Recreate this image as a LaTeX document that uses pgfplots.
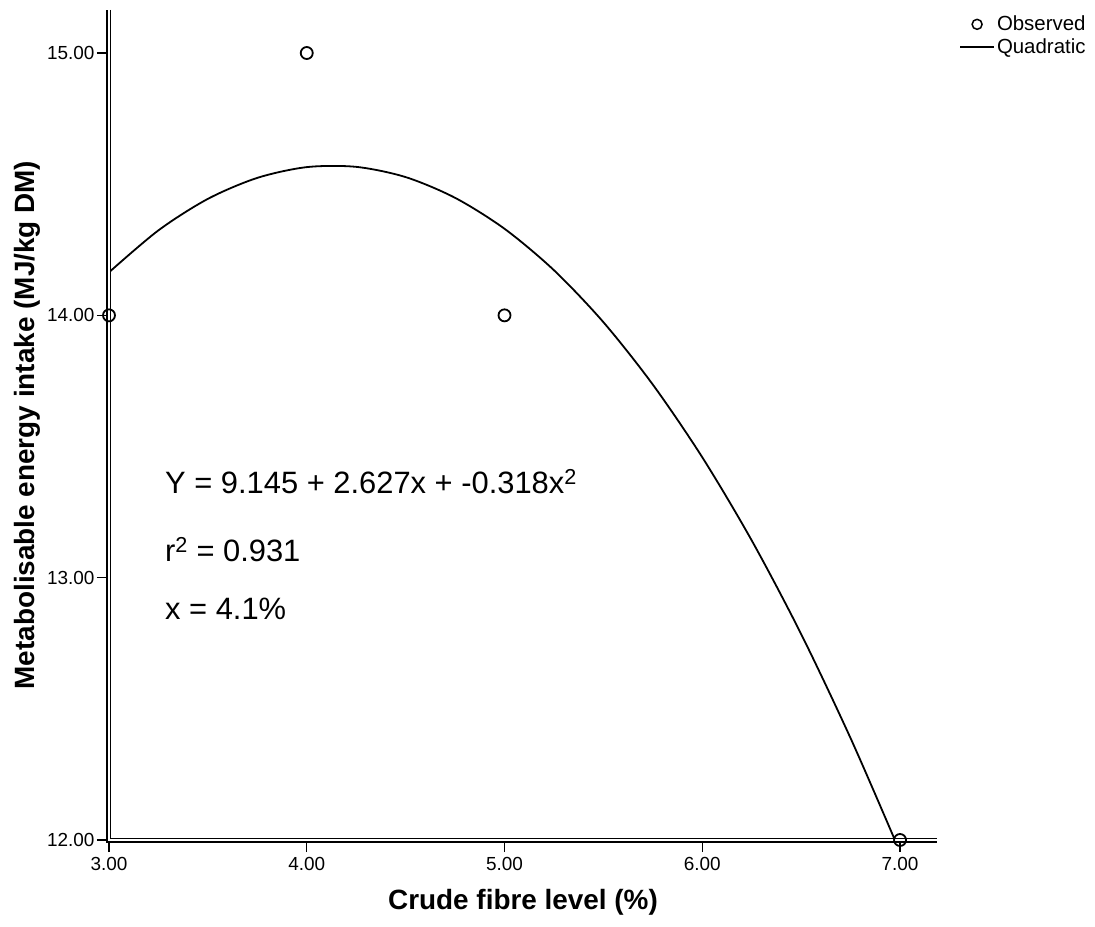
\documentclass[border=0pt]{standalone}
\usepackage{fontspec}
\setmainfont{Liberation Sans}
\usepackage{pgfplots}
\pgfplotsset{compat=1.18}
\begin{document}
\begin{tikzpicture}
\begin{axis}[
  at={(0,0)}, anchor=south west,
  scale only axis, width=828bp, height=830bp,
  xmin=3, xmax=7.187, ymin=12, ymax=15.164,
  axis lines*=left, axis line style={draw=none},
  clip=false,
  xtick={3,4,5,6,7}, ytick={12,13,14,15},
  tick align=outside, major tick length=12bp,
  tick style={black, line width=1.4bp},
  /pgf/number format/assume math mode=true,
  xticklabel style={font=\fontsize{19}{21}\selectfont, yshift=-2bp,
    /pgf/number format/fixed, /pgf/number format/precision=2, /pgf/number format/fixed zerofill},
  yticklabel style={font=\fontsize{19}{21}\selectfont, xshift=1bp,
    /pgf/number format/fixed, /pgf/number format/precision=2, /pgf/number format/fixed zerofill},
  xlabel={Crude fibre level (\%)},
  ylabel={Metabolisable energy intake (MJ/kg DM)},
  xlabel style={font=\bfseries\fontsize{28}{30}\selectfont, yshift=-12bp},
  ylabel style={font=\bfseries\fontsize{28}{30}\selectfont},
  legend style={at={(1,1)}, anchor=north west, xshift=22bp, yshift=-4bp,
    draw=none, fill=none, font=\fontsize{20.5}{22}\selectfont, row sep=2bp,
    inner sep=0pt},
  legend cell align=left,
]
\addplot[only marks, mark=o, mark size=6bp, line width=1.8bp, mark options={fill=white},
  legend image code/.code={\draw[mark=o, mark size=5bp, line width=1.5bp] plot coordinates {(17bp,0bp)};}]
  coordinates {(3,14) (4,15) (5,14) (7,12)};
\addlegendentry{Observed}
\addplot[black, line width=1.8bp, smooth, no marks,
  legend image code/.code={\draw[line width=1.8bp] (0bp,0bp) -- (34bp,0bp);}]
  coordinates {(3,14.164) (3.25,14.324) (3.5,14.444) (3.75,14.524) (4,14.565)
    (4.25,14.566) (4.5,14.527) (4.75,14.448) (5,14.330) (5.25,14.172) (5.5,13.974)
    (5.75,13.736) (6,13.459) (6.25,13.142) (6.5,12.785) (6.75,12.388) (6.974,12.0)};
\addlegendentry{Quadratic}
\draw[double=white, double distance=2.2bp, line width=1.4bp, black]
  (rel axis cs:0,1) -- (rel axis cs:0,0) -- (rel axis cs:1,0);
\node[anchor=base west, font=\fontsize{31}{34}\selectfont, inner sep=0pt] at (axis cs:3.283,13.319)
  {Y = 9.145 + 2.627x + -0.318x\textsuperscript{2}};
\node[anchor=base west, font=\fontsize{31}{34}\selectfont, inner sep=0pt] at (axis cs:3.283,13.060)
  {r\textsuperscript{2} = 0.931};
\node[anchor=base west, font=\fontsize{31}{34}\selectfont, inner sep=0pt] at (axis cs:3.283,12.839)
  {x = 4.1\%};
\end{axis}
\pgfresetboundingbox
\path[use as bounding box] (-109bp,-87bp) rectangle (986bp,840bp);
\end{tikzpicture}
\end{document}
